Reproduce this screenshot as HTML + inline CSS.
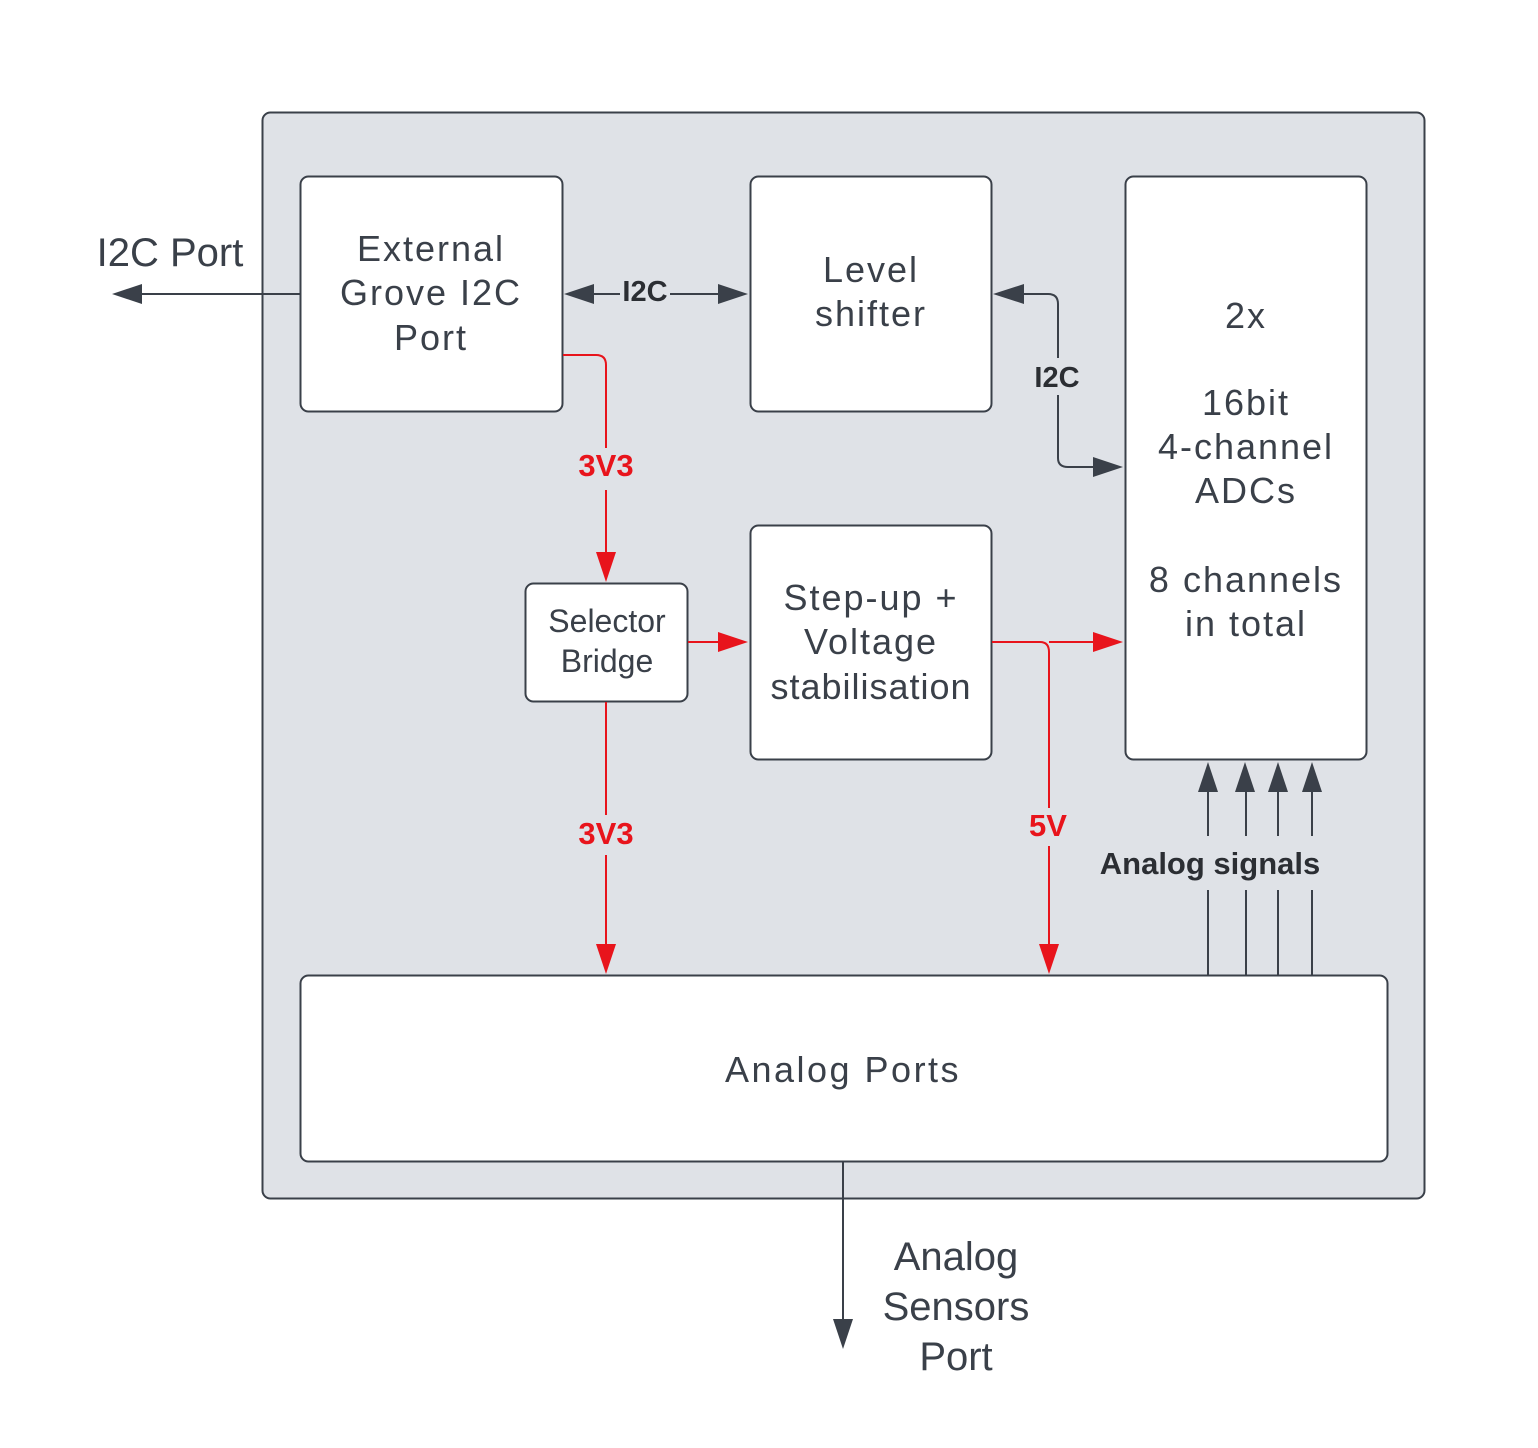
<!DOCTYPE html>
<html><head><meta charset="utf-8"><style>
html,body{margin:0;padding:0;background:#fff;width:1538px;height:1448px;overflow:hidden}
svg{display:block}
text{font-family:"Liberation Sans","DejaVu Sans",sans-serif}
</style></head><body>
<svg width="1538" height="1448" viewBox="0 0 1538 1448" xmlns="http://www.w3.org/2000/svg">
<rect x="0" y="0" width="1538" height="1448" fill="#fff"/>
<rect x="262.5" y="112.5" width="1162" height="1086" rx="8" fill="#dfe2e7" stroke="#3a4049" stroke-width="2"/>

<g fill="#fff" stroke="#3a4049" stroke-width="2">
<rect x="300.5" y="176.5" width="262" height="235" rx="8"/>
<rect x="750.5" y="176.5" width="241" height="235" rx="8"/>
<rect x="1125.5" y="176.5" width="241" height="583" rx="8"/>
<rect x="525.5" y="583.5" width="162" height="118" rx="8"/>
<rect x="750.5" y="525.5" width="241" height="234" rx="8"/>
<rect x="300.5" y="975.5" width="1087" height="186" rx="8"/>
</g>

<g stroke="#3a4049" stroke-width="2" fill="none">
<line x1="300" y1="294" x2="140" y2="294"/>
<line x1="590" y1="294" x2="620" y2="294"/>
<line x1="670" y1="294" x2="720" y2="294"/>
<path d="M1022 294 H1048 Q1058 294 1058 304 V358"/>
<path d="M1058 395 V458 Q1058 467 1068 467 H1095"/>
<line x1="1208" y1="975" x2="1208" y2="890"/><line x1="1208" y1="836" x2="1208" y2="790"/>
<line x1="1246" y1="975" x2="1246" y2="890"/><line x1="1246" y1="836" x2="1246" y2="790"/>
<line x1="1278" y1="975" x2="1278" y2="890"/><line x1="1278" y1="836" x2="1278" y2="790"/>
<line x1="1312" y1="975" x2="1312" y2="890"/><line x1="1312" y1="836" x2="1312" y2="790"/>
<line x1="843" y1="1162" x2="843" y2="1320"/>
</g>
<g fill="#3a4049">
<polygon points="112,294 142,284 142,304"/>
<polygon points="564,294 594,284 594,304"/>
<polygon points="748,294 718,284 718,304"/>
<polygon points="993,294 1024,284 1024,304"/>
<polygon points="1123,467 1093,457 1093,477"/>
<polygon points="1208,762 1198,792 1218,792"/>
<polygon points="1245,762 1235,792 1255,792"/>
<polygon points="1278,762 1268,792 1288,792"/>
<polygon points="1312,762 1302,792 1322,792"/>
<polygon points="843,1349 833,1319 853,1319"/>
</g>

<g stroke="#e8141c" stroke-width="2" fill="none">
<path d="M563 355 H596 Q606 355 606 365 V448"/>
<line x1="606" y1="490" x2="606" y2="555"/>
<line x1="606" y1="702" x2="606" y2="815"/>
<line x1="606" y1="855" x2="606" y2="945"/>
<line x1="688" y1="642" x2="720" y2="642"/>
<path d="M992 642 H1040 Q1049 642 1049 652 V808"/>
<line x1="1049" y1="642" x2="1095" y2="642"/>
<line x1="1049" y1="846" x2="1049" y2="945"/>
</g>
<g fill="#e8141c">
<polygon points="606,582 596,552 616,552"/>
<polygon points="606,974 596,944 616,944"/>
<polygon points="748,642 718,632 718,652"/>
<polygon points="1123,642 1093,632 1093,652"/>
<polygon points="1049,974 1039,944 1059,944"/>
</g>

<g font-weight="bold" font-size="31" text-anchor="middle" fill="#e8141c">
<text x="606" y="476">3V3</text>
<text x="606" y="844">3V3</text>
<text x="1048" y="836">5V</text>
</g>
<g font-weight="bold" font-size="29" text-anchor="middle" fill="#2b2e33">
<text x="645" y="301">I2C</text>
<text x="1057" y="387">I2C</text>
<text x="1210" y="874" font-size="31">Analog signals</text>
</g>

<g font-size="36" text-anchor="middle" fill="#3a4049" letter-spacing="2">
<text x="431" y="261">External</text>
<text x="431" y="305">Grove I2C</text>
<text x="431" y="350">Port</text>
<text x="871" y="282">Level</text>
<text x="871" y="326">shifter</text>
<text x="1246" y="328">2x</text>
<text x="1246" y="415">16bit</text>
<text x="1246" y="459">4-channel</text>
<text x="1246" y="503">ADCs</text>
<text x="1246" y="592">8 channels</text>
<text x="1246" y="636">in total</text>
<text x="871" y="610">Step-up +</text>
<text x="871" y="654">Voltage</text>
<text x="871" y="699" letter-spacing="1">stabilisation</text>
<text x="843" y="1082" letter-spacing="2.5">Analog Ports</text>
</g>
<g font-size="40" text-anchor="middle" fill="#3a4049">
<text x="170" y="266">I2C Port</text>
<text x="956" y="1270">Analog</text>
<text x="956" y="1320">Sensors</text>
<text x="956" y="1370">Port</text>
</g>
<g font-size="32" text-anchor="middle" fill="#3a4049">
<text x="607" y="632">Selector</text>
<text x="607" y="672">Bridge</text>
</g>
</svg>
</body></html>
